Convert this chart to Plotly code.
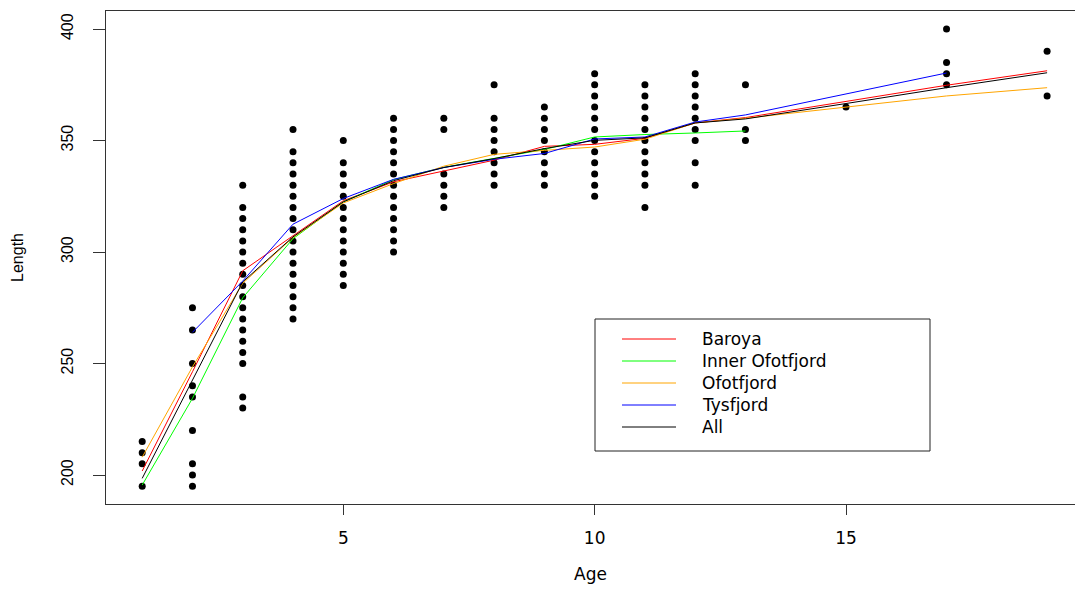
import plotly.graph_objects as go

# ---------------- data: observed lengths by age ----------------
ages_obs = [1, 2, 3, 4, 5, 6, 7, 8, 9, 10, 11, 12, 13, 15, 17, 19]
len_age1 = [195, 205, 210, 215]
len_age2 = [195, 200, 205, 220, 235, 240, 250, 265, 275]
len_age3 = [230, 235, 250, 255, 260, 265, 270, 275, 280, 285, 290, 295, 300, 305, 310, 315, 320, 330]
len_age4 = [270, 275, 280, 285, 290, 295, 300, 305, 310, 315, 320, 325, 330, 335, 340, 345, 355]
len_age5 = [285, 290, 295, 300, 305, 310, 315, 320, 325, 330, 335, 340, 350]
len_age6 = [300, 305, 310, 315, 320, 325, 330, 335, 340, 345, 350, 355, 360]
len_age7 = [320, 325, 330, 335, 355, 360]
len_age8 = [330, 335, 340, 345, 350, 355, 360, 375]
len_age9 = [330, 335, 340, 345, 350, 355, 360, 365]
len_age10 = [325, 330, 335, 340, 345, 350, 355, 360, 365, 370, 375, 380]
len_age11 = [320, 330, 335, 340, 345, 350, 355, 360, 365, 370, 375]
len_age12 = [330, 340, 350, 355, 360, 365, 370, 375, 380]
len_age13 = [350, 355, 375]
len_age15 = [365]
len_age17 = [375, 380, 385, 400]
len_age19 = [370, 390]
lengths_by_age = [len_age1, len_age2, len_age3, len_age4, len_age5, len_age6, len_age7,
                  len_age8, len_age9, len_age10, len_age11, len_age12, len_age13,
                  len_age15, len_age17, len_age19]

# ---------------- data: mean length curves per area ----------------
baroya_age = [1, 2, 3, 4, 5, 6, 7, 8, 9, 10, 11, 12, 13, 15, 17, 19]
baroya_len = [201.8, 246.3, 291.6, 307.5, 323.0, 331.5, 336.4, 341.2, 347.4, 348.3, 351.0, 357.9, 360.3, 367.6, 374.8, 381.3]

inner_age = [1, 2, 3, 4, 5, 6, 7, 8, 9, 10, 11, 12, 13]
inner_len = [195.5, 234.4, 279.5, 306.0, 322.5, 332.5, 338.0, 342.0, 346.0, 351.6, 352.7, 353.4, 354.3]

ofot_age = [1, 2, 3, 4, 5, 6, 7, 8, 9, 10, 11, 12, 13, 15, 17, 19]
ofot_len = [208.0, 248.5, 286.0, 306.5, 322.0, 330.7, 338.5, 343.8, 345.6, 347.1, 350.6, 357.9, 360.0, 365.0, 370.0, 373.7]

tys_age = [2, 3, 4, 5, 6, 7, 8, 9, 10, 11, 12, 13, 17]
tys_len = [264.0, 287.0, 312.5, 324.0, 332.6, 337.9, 341.6, 344.2, 350.7, 351.6, 358.3, 361.5, 380.3]

all_age = [1, 2, 3, 4, 5, 6, 7, 8, 9, 10, 11, 12, 13, 15, 17, 19]
all_len = [198.5, 242.6, 286.6, 306.8, 322.5, 332.0, 337.9, 341.9, 346.4, 350.1, 351.2, 357.9, 359.7, 366.6, 373.7, 380.4]

series_names = ["Baroya", "Inner Ofotfjord", "Ofotfjord", "Tysfjord", "All"]
series_colors = ["#FF0000", "#00FF00", "#FFA500", "#0000FF", "#000000"]
series_ages = [baroya_age, inner_age, ofot_age, tys_age, all_age]
series_lens = [baroya_len, inner_len, ofot_len, tys_len, all_len]

x_ticks = [5, 10, 15]
y_ticks = [200, 250, 300, 350, 400]

# ---------------- figure ----------------
pt_x, pt_y = [], []
for a, ls in zip(ages_obs, lengths_by_age):
    for v in ls:
        pt_x.append(a)
        pt_y.append(v)

fig = go.Figure()
fig.add_trace(go.Scatter(x=pt_x, y=pt_y, mode="markers", showlegend=False, name="Observed",
                         marker=dict(color="black", size=7, line=dict(width=0))))

for nm, col, xa, ya in zip(series_names, series_colors, series_ages, series_lens):
    fig.add_trace(go.Scatter(x=xa, y=ya, mode="lines", name=nm, showlegend=False,
                             line=dict(color=col, width=1)))

FONT = "Liberation Sans, Arial, Helvetica, sans-serif"
WIDE = "DejaVu Sans, Verdana, sans-serif"

# plot-area geometry (pixels) used to place the boxed legend in paper coordinates
L, R_, T, B = 106, 1075, 11, 504
W, H = R_ - L, B - T
px = lambda x: (x - L) / W
py = lambda y: (B - y) / H

shapes = [dict(type="rect", xref="paper", yref="paper",
               x0=px(595), x1=px(930), y0=py(451), y1=py(319),
               line=dict(color="#222222", width=1), fillcolor="rgba(0,0,0,0)")]
annotations = []
row_y = [339, 361, 383, 405, 427]
for nm, col, yy in zip(series_names, series_colors, row_y):
    shapes.append(dict(type="line", xref="paper", yref="paper",
                       x0=px(622), x1=px(676), y0=py(yy), y1=py(yy),
                       line=dict(color=col, width=1)))
    annotations.append(dict(text=nm, xref="paper", yref="paper", x=px(700), y=py(yy),
                            xanchor="left", yanchor="middle", showarrow=False,
                            font=dict(family=WIDE, size=17, color="black")))

fig.update_layout(
    width=1075, height=590,
    margin=dict(l=L, r=0, t=T, b=590 - B),
    paper_bgcolor="white", plot_bgcolor="white",
    font=dict(family=FONT, size=16, color="black"),
    showlegend=False,
    shapes=shapes,
    annotations=annotations,
)

fig.update_xaxes(range=[0.28, 19.555], tickvals=x_ticks, ticktext=[str(t) for t in x_ticks],
                 showgrid=False, zeroline=False, showline=True, mirror=True,
                 linecolor="#333333", linewidth=1, ticks="outside", ticklen=10,
                 tickcolor="#333333", tickwidth=1, ticklabelstandoff=9,
                 tickfont=dict(family=WIDE, size=17),
                 title=dict(text="Age", standoff=20, font=dict(family=WIDE, size=17)))
fig.update_yaxes(range=[187.0, 408.1], tickvals=y_ticks, ticktext=[str(t) for t in y_ticks],
                 showgrid=False, zeroline=False, showline=True, mirror=False,
                 linecolor="#333333", linewidth=1, ticks="outside", ticklen=12,
                 tickcolor="#333333", tickwidth=1, tickangle=-90, ticklabelstandoff=14,
                 tickfont=dict(family=FONT, size=16),
                 title=dict(text="Length", standoff=30, font=dict(family=FONT, size=16)))

fig.write_html("out.html")
